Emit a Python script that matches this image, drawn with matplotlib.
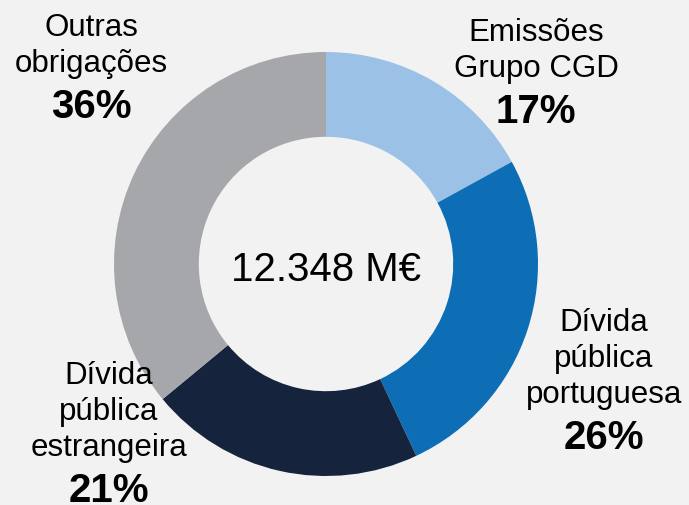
import matplotlib
matplotlib.use('Agg')
import matplotlib.pyplot as plt

# composition of the bond portfolio (share of total, %)
labels = [['Emissões', 'Grupo CGD'],
          ['Dívida', 'pública', 'portuguesa'],
          ['Dívida', 'pública', 'estrangeira'],
          ['Outras', 'obrigações']]
shares = [17, 26, 21, 36]
colors = ['#9bc2e6', '#0d6eb6', '#16233c', '#a6a7aa']
total_label = '12.348 M€'

BG = '#f2f2f2'
W, H = 689, 506
plt.rcParams['font.family'] = ['Liberation Sans', 'DejaVu Sans']

fig = plt.figure(figsize=(W / 100, H / 100), dpi=100, facecolor=BG)
ax = fig.add_axes([0, 0, 1, 1])
ax.set_facecolor(BG)

cx, cy, r = 326, H - 265, 212
ax.pie(shares, colors=colors, startangle=90, counterclock=False,
       center=(cx, cy), radius=r, frame=True,
       wedgeprops=dict(width=0.4 * r, edgecolor='none'))
ax.set_xlim(0, W)
ax.set_ylim(0, H)
ax.set_aspect('equal')
ax.axis('off')

ax.text(cx, H - 281, total_label, ha='center', va='baseline', fontsize=29)

# label anchors: centre x, baseline of first line (pixels from top)
spots = [(536, 41), (604, 331), (109, 384), (91, 36)]
step = 36
for lines, s, (x, y0) in zip(labels, shares, spots):
    for i, ln in enumerate(lines):
        ax.text(x, H - (y0 + i * step), ln, ha='center', va='baseline',
                fontsize=22.5)
    ax.text(x, H - (y0 + (len(lines) - 1) * step + 46), f'{s}%',
            ha='center', va='baseline', fontsize=29, fontweight='bold')

fig.savefig('out.png', dpi=100, facecolor=BG)
